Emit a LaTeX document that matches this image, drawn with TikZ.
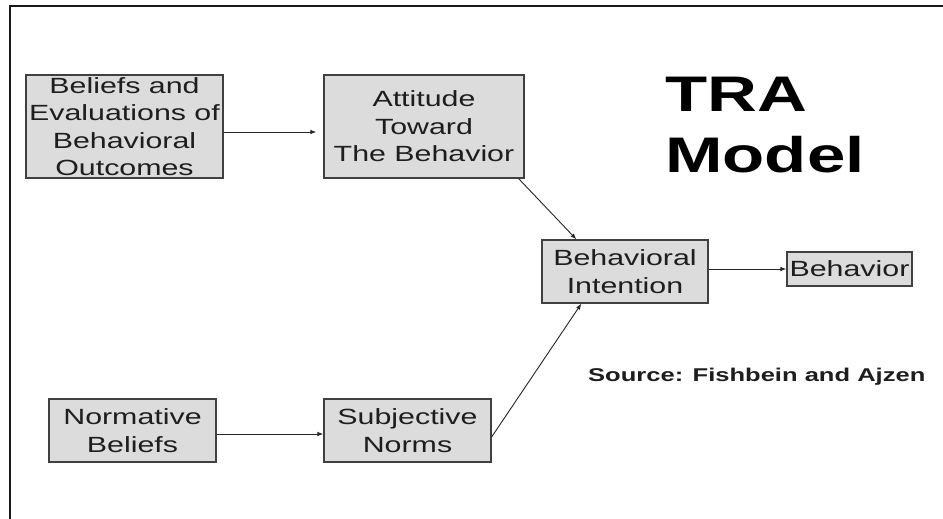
\documentclass[tikz,border=0pt]{standalone}
\usepackage{fontspec}
\newfontfamily\boxfont[FakeStretch=1.38]{Liberation Sans}
\usetikzlibrary{arrows.meta,calc}
\definecolor{boxfill}{HTML}{DCDCDC}
\definecolor{boxline}{HTML}{404040}
\definecolor{txt}{HTML}{1E1E1E}
\tikzset{
  tbox/.style={draw=boxline, line width=1.2pt, fill=boxfill, inner sep=0pt,
    align=center, text=txt, font=\boxfont\fontsize{22}{27.5}\selectfont},
  conn/.style={draw=black!85, line width=0.9pt, -{Latex[length=6pt,width=4.5pt]}},
  title/.style={inner sep=0pt, text=black, font=\boxfont\bfseries\fontsize{50}{61}\selectfont},
  src/.style={inner sep=0pt, text=txt, font=\boxfont\bfseries\fontsize{18.5}{22}\selectfont}
}
\begin{document}
\begin{tikzpicture}[x=1pt,y=-1pt]
\useasboundingbox (0,0) rectangle (943,519);
\fill[white] (0,0) rectangle (943,519);
\draw[line width=2.2pt, black!90] (943,6) -- (10,6) -- (10,519);

\node[tbox, minimum width=197pt, minimum height=103pt] (bel) at (124.5,126.5) {Beliefs and\\Evaluations of\\Behavioral\\Outcomes};
\node[tbox, minimum width=200pt, minimum height=103pt] (att) at (424,126.5) {Attitude\\Toward\\The Behavior};
\node[tbox, minimum width=166pt, minimum height=63pt] (int) at (625,271.5) {Behavioral\\Intention};
\node[tbox, minimum width=125pt, minimum height=34pt] (beh) at (849.5,269) {Behavior};
\node[tbox, minimum width=167pt, minimum height=63pt] (nor) at (132.5,430.5) {Normative\\Beliefs};
\node[tbox, minimum width=167pt, minimum height=63pt] (sub) at (407.5,430.5) {Subjective\\Norms};

\node[title, anchor=base west] (tra) at (665,111) {TRA};
\node[title, anchor=base west] (model) at (665,172) {Model};
\node[src, anchor=base west] (source) at (588,381) {Source: Fishbein and Ajzen};

\draw[conn, shorten >=7pt] ($(bel.east)+(0,5.5)$) -- ($(att.west)+(0,5.5)$);
\draw[conn] ($(att.south east)+(-6,0)$) -- ($(int.north west)+(35,0)$);
\draw[conn] ($(sub.east)+(0,6.5)$) -- ($(int.south west)+(40,0)$);
\draw[conn] (int.east |- beh.west) -- (beh.west);
\draw[conn] ($(nor.east)+(0,3.5)$) -- ($(sub.west)+(0,3.5)$);
\end{tikzpicture}
\end{document}
